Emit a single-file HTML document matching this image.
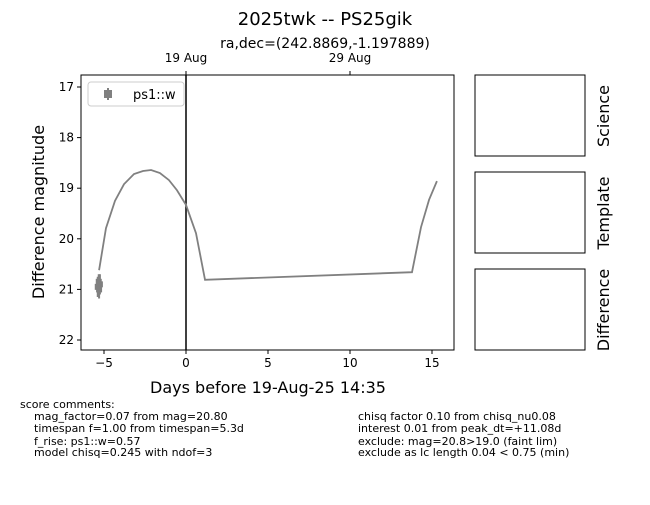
<!DOCTYPE html>
<html><head><meta charset="utf-8"><style>
body{margin:0;background:#fff;font-family:"Liberation Sans",sans-serif}
svg text{font-family:"DejaVu Sans","Liberation Sans",sans-serif}
</style></head><body>
<svg id="chart" width="650" height="500">
<text x="325" y="25" font-size="18" text-anchor="middle">2025twk -- PS25gik</text>
<text x="325" y="48" font-size="14" text-anchor="middle">ra,dec=(242.8869,-1.197889)</text>
<g id="plot"></g>
<rect x="475" y="75" width="110" height="81" fill="none" stroke="#000"/>
<rect x="475" y="172" width="110" height="81" fill="none" stroke="#000"/>
<rect x="475" y="269" width="110" height="81" fill="none" stroke="#000"/>
<text transform="translate(609,116) rotate(-90)" font-size="16" text-anchor="middle">Science</text>
<text transform="translate(609,213) rotate(-90)" font-size="16" text-anchor="middle">Template</text>
<text transform="translate(609,310) rotate(-90)" font-size="16" text-anchor="middle">Difference</text>
<g font-size="11">
<text x="20" y="408">score comments:</text>
<text x="34" y="420">mag_factor=0.07 from mag=20.80</text>
<text x="34" y="432">timespan f=1.00 from timespan=5.3d</text>
<text x="34" y="445">f_rise: ps1::w=0.57</text>
<text x="34" y="456">model chisq=0.245 with ndof=3</text>
<text x="358" y="420">chisq factor 0.10 from chisq_nu0.08</text>
<text x="358" y="432">interest 0.01 from peak_dt=+11.08d</text>
<text x="358" y="445">exclude: mag=20.8&gt;19.0 (faint lim)</text>
<text x="358" y="456">exclude as lc length 0.04 &lt; 0.75 (min)</text>
</g>
</svg>
<script>
const modelX=[-5.3,-4.88,-4.33,-3.78,-3.17,-2.62,-2.13,-1.59,-1.04,-0.55,0,0.61,1.16,13.78,14.33,14.82,15.3];
const modelY=[20.62,19.79,19.25,18.92,18.72,18.66,18.64,18.70,18.84,19.04,19.33,19.89,20.81,20.66,19.77,19.23,18.86];
const obsX=[-5.38,-5.32,-5.25,-5.3];
const obsY=[20.95,20.85,20.9,21.0];
const obsErr=[0.2,0.15,0.2,0.18];
const xTicks=[-5,0,5,10,15];
const yTicks=[17,18,19,20,21,22];
const topTicks=[0,10];
const topLabels=["19 Aug","29 Aug"];
const L=81,R=454,T=75,B=350;
const sx=v=>186+v*16.4;
const sy=v=>87+(v-17)*50.6;
const NS="http://www.w3.org/2000/svg";
const g=document.getElementById('plot');
function mk(t,a,txt){const e=document.createElementNS(NS,t);for(const k in a)e.setAttribute(k,a[k]);if(txt!==undefined)e.textContent=txt;g.appendChild(e);return e;}
let e=mk('rect',{x:L,y:T,width:R-L,height:B-T,fill:'none',stroke:'#000'});


xTicks.forEach(v=>{mk('line',{x1:sx(v),x2:sx(v),y1:B,y2:B+4,stroke:'#000'});
const t=mk('text',{x:sx(v),y:B+17,'font-size':12,'text-anchor':'middle'},String(v).replace('-','\u2212'));

});
yTicks.forEach(v=>{mk('line',{x1:L-4,x2:L,y1:sy(v),y2:sy(v),stroke:'#000'});
const t=mk('text',{x:L-7,y:sy(v)+4,'font-size':12,'text-anchor':'end'},v);

});
topTicks.forEach((v,i)=>{mk('line',{x1:sx(v),x2:sx(v),y1:T,y2:T-4,stroke:'#000'});
const t=mk('text',{x:sx(v),y:T-13,'font-size':12,'text-anchor':'middle'},topLabels[i]);

});
e=mk('text',{x:268,y:393,'font-size':16,'text-anchor':'middle'},'Days before 19-Aug-25 14:35');


e=mk('text',{transform:'translate(44,212) rotate(-90)','font-size':16,'text-anchor':'middle'},'Difference magnitude');


e=mk('line',{x1:sx(0),x2:sx(0),y1:T,y2:B,stroke:'#000','stroke-width':1.5});


e=mk('polyline',{points:modelX.map((x,i)=>sx(x)+','+sy(modelY[i])).join(' '),fill:'none',stroke:'#808080','stroke-width':1.8});


obsX.forEach((x,i)=>{
const a=mk('line',{x1:sx(x),x2:sx(x),y1:sy(obsY[i]-obsErr[i]),y2:sy(obsY[i]+obsErr[i]),stroke:'#808080','stroke-width':2});


const p=mk('rect',{x:sx(x)-3,y:sy(obsY[i])-3,width:6,height:6,fill:'#808080'});

});
e=mk('rect',{x:88,y:82,width:96,height:24,rx:3,fill:'#fff',stroke:'#ccc'});


mk('line',{x1:108,x2:108,y1:88,y2:100,stroke:'#808080','stroke-width':2});
mk('rect',{x:104,y:90,width:8,height:8,fill:'#808080'});
e=mk('text',{x:133,y:99,'font-size':13},'ps1::w');


</script>
</body></html>
